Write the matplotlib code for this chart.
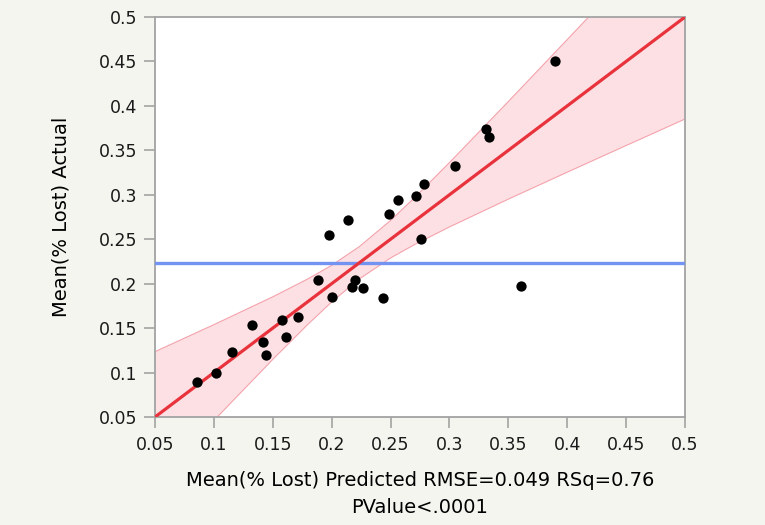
"""Actual by predicted plot: Mean(% Lost)."""

import matplotlib

matplotlib.use("Agg")
import matplotlib.pyplot as plt

# points (predicted, actual)
predicted = [0.086, 0.102, 0.115, 0.132, 0.142, 0.144, 0.158, 0.161, 0.171,
             0.188, 0.200, 0.198, 0.214, 0.217, 0.220, 0.227, 0.244, 0.249,
             0.256, 0.272, 0.278, 0.276, 0.305, 0.331, 0.334, 0.390, 0.361]
actual = [0.089, 0.100, 0.123, 0.153, 0.134, 0.120, 0.159, 0.140, 0.163,
          0.204, 0.185, 0.255, 0.272, 0.196, 0.204, 0.195, 0.184, 0.278,
          0.294, 0.299, 0.312, 0.250, 0.332, 0.374, 0.365, 0.450, 0.197]

# confidence band edges
band_x = [0.05, 0.10, 0.15, 0.18, 0.20, 0.2236, 0.25, 0.27, 0.30, 0.35,
          0.40, 0.45, 0.50]
band_lo = [-0.0235, 0.0461, 0.1148, 0.1545, 0.1794, 0.2054, 0.2289, 0.2437,
           0.2638, 0.2951, 0.3254, 0.3554, 0.3852]
band_hi = [0.1235, 0.1539, 0.1852, 0.2055, 0.2206, 0.2418, 0.2711, 0.2963,
           0.3362, 0.4049, 0.4746, 0.5446, 0.6148]

fit_x = [0.05, 0.5]
fit_y = [0.05, 0.5]
ticks = [0.05, 0.1, 0.15, 0.2, 0.25, 0.3, 0.35, 0.4, 0.45, 0.5]
tick_labels = ["0.05", "0.1", "0.15", "0.2", "0.25", "0.3", "0.35", "0.4",
               "0.45", "0.5"]

mean_actual = sum(actual) / len(actual)

plt.rcParams["font.family"] = ["DejaVu Sans"]

BG = "#f5f5f0"
GRAY = "#a3a3a3"
FS = 12.5
LABEL_FS = 14

fig = plt.figure(figsize=(7.65, 5.25), dpi=100, facecolor=BG)
ax = fig.add_axes([155 / 765, 1 - 417 / 525, 530 / 765, 400 / 525])
ax.set_facecolor("white")

ax.fill_between(band_x, band_lo, band_hi, color="#fde0e3", lw=0, zorder=1)
ax.plot(band_x, band_lo, color="#f4a3ac", lw=0.8, zorder=2)
ax.plot(band_x, band_hi, color="#f4a3ac", lw=0.8, zorder=2)
ax.axhline(mean_actual, color="#7393f2", lw=2.4, zorder=3)
ax.plot(fit_x, fit_y, color="#e8333d", lw=2.3, zorder=4)
ax.scatter(predicted, actual, s=55, color="black", lw=0, zorder=5)

ax.set_xlim(0.05, 0.5)
ax.set_ylim(0.05, 0.5)
ax.set_xticks(ticks, tick_labels)
ax.set_yticks(ticks, tick_labels)
ax.tick_params(direction="out", length=8, width=1.2, color=GRAY,
               labelsize=FS, labelcolor="#1a1a1a")
ax.tick_params(axis="x", pad=6)
ax.tick_params(axis="y", pad=4.5)
for side in ax.spines.values():
    side.set_color(GRAY)
    side.set_linewidth(1.3)

ax.set_ylabel("Mean(% Lost) Actual", fontsize=LABEL_FS)
ax.yaxis.set_label_coords(-0.16, 0.5)
ax.set_xlabel("Mean(% Lost) Predicted RMSE=0.049 RSq=0.76\nPValue<.0001",
              fontsize=LABEL_FS, linespacing=1.5)
ax.xaxis.set_label_coords(0.5, -0.136)

fig.savefig("out.png", dpi=100, facecolor=BG)
